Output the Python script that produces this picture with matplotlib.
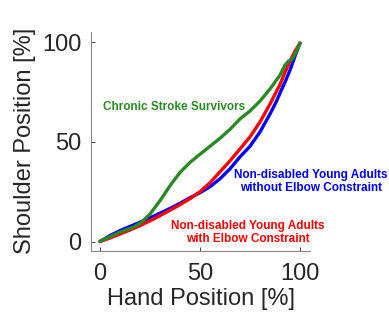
import numpy as np
import matplotlib.pyplot as plt

# hand vs shoulder position (%), sampled along each group's mean curve
hand_stroke = [0, 2.5, 10, 16.7, 20.8, 25, 30, 35, 40, 45, 50, 55, 60,
               65, 70, 75, 80, 85, 90, 92.5, 94.2, 95.8, 97.5, 100]
stroke = [0.2, 1.3, 4.7, 7.2, 9.7, 13.8, 20.5, 28, 34.7, 39.7, 43.8, 47.8, 51.8,
          56.3, 61.5, 65.5, 70.5, 76.5, 83.5, 88.5, 90.5, 91.3, 93.8, 99.5]

hand_free = [0, 5, 10, 15, 20, 25, 30, 35, 40, 45, 50, 55, 60,
             65, 70, 75, 80, 85, 88.3, 90, 92.5, 95, 97.5, 100]
no_constraint = [0, 3, 5.5, 7.6, 9.7, 11.9, 14.2, 16.6, 19.2, 22, 24.5, 27.5, 31.5,
                 36.5, 42.5, 47.8, 55, 64, 70.5, 74.5, 80, 86, 93, 99.5]

hand_fixed = [0, 5, 10, 15, 20, 25, 30, 35, 40, 45, 50, 55, 60,
              65, 70, 75, 80, 85, 90, 92.5, 95, 97.5, 100]
with_constraint = [0, 1.8, 3.8, 5.8, 8, 10.4, 13, 15.7, 18.5, 21.5, 25, 29.5, 35,
                   40.5, 46.5, 52.5, 60, 69, 78.8, 85, 90.5, 95.5, 99.5]

text_col = '#262626'
green = '#2a8a22'
plt.rcParams['font.family'] = ['Liberation Sans', 'DejaVu Sans']

fig = plt.figure(figsize=(3.89, 3.22), dpi=100)
ax = fig.add_axes([0.234, 0.222, 0.563, 0.678])

line_kw = dict(lw=2.4, solid_joinstyle='round', solid_capstyle='round')
ax.plot(hand_free, no_constraint, color='#0000ff', **line_kw)
ax.plot(hand_fixed, with_constraint, color='#ff0000', **line_kw)
ax.plot(hand_stroke, stroke, color=green, **line_kw)

note = dict(fontsize=8.5, fontweight='bold',
            family=['Liberation Sans Narrow', 'Liberation Sans'], clip_on=False)
ax.text(1.5, 67.5, 'Chronic Stroke Survivors', color=green, ha='left', va='center', **note)
ax.text(105.5, 30, 'Non-disabled Young Adults\nwithout Elbow Constraint', color='#0000ff',
        ha='center', va='center', linespacing=1.1, **note)
ax.text(74, 4.7, 'Non-disabled Young Adults\nwith Elbow Constraint', color='#ff0000',
        ha='center', va='center', linespacing=1.1, **note)

ax.set_xlim(-4.5, 105)
ax.set_ylim(-4.5, 105)
ax.set_xticks([0, 50, 100])
ax.set_yticks([0, 50, 100])
ax.tick_params(direction='in', length=3, labelsize=17, colors=text_col, width=0.6)
ax.tick_params(axis='x', pad=9)
ax.tick_params(axis='y', pad=7)
for s in ['top', 'right']:
    ax.spines[s].set_visible(False)
for s in ['left', 'bottom']:
    ax.spines[s].set_color('#888888')
    ax.spines[s].set_linewidth(0.8)

ax.set_xlabel('Hand Position [%]', fontsize=17, color=text_col, labelpad=2)
ax.set_ylabel('Shoulder Position [%]', fontsize=17, color=text_col, labelpad=4)

fig.savefig('out.png', dpi=100)
